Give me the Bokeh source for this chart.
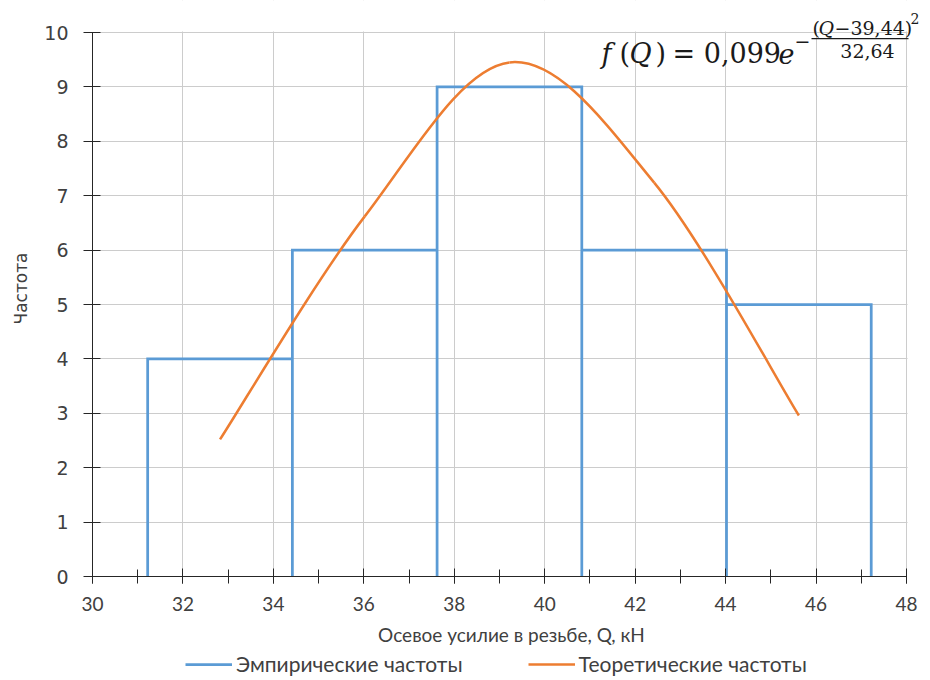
from bokeh.plotting import figure
from bokeh.layouts import column
from bokeh.models import (Range1d, SingleIntervalTicker, FixedTicker, Legend, LegendItem,
                          Label, BoxAnnotation)
from bokeh.embed import file_html
from bokeh.resources import INLINE

# ---- data ----
bin_edges = [31.22, 34.42, 37.62, 40.82, 44.02, 47.22]
empirical_freq = [4, 6, 9, 6, 5]
mid_q = [32.82, 36.02, 39.22, 42.42, 45.62]
theoretical_freq = [2.52, 6.62, 9.45, 7.24, 2.96]
x_ticks = list(range(30, 49, 2))
y_ticks = list(range(0, 11))
legend_labels = ["Эмпирические частоты", "Теоретические частоты"]

BLUE = "#5B9BD5"
ORANGE = "#ED7D31"
AXIS = "#262626"
SANS = "Lato"
LABEL_INK = "#404040"

# pixel geometry of the plotting area (value 30..48 on x, 0..10 on y)
PX_PER_X = 814 / 18
PX_PER_Y = 544 / 10
X_END = 48 + 24 / PX_PER_X      # a little room at the right for the formula
Y_END = 10 + 32 / PX_PER_Y      # room at the top for the formula

p = figure(frame_width=838, frame_height=576, output_backend="svg", toolbar_location=None,
           x_range=Range1d(30, X_END), y_range=Range1d(0, Y_END),
           min_border_left=92, min_border_right=0, min_border_top=0, min_border_bottom=76)
p.outline_line_color = None
p.background_fill_color = "white"
p.border_fill_color = "white"

# grids
p.xgrid.ticker = FixedTicker(ticks=x_ticks)
p.ygrid.ticker = FixedTicker(ticks=y_ticks)
for g in (p.xgrid, p.ygrid):
    g.grid_line_color = "#cccccc"
    g.grid_line_width = 1

# axes
xa = p.xaxis[0]
xa.ticker = SingleIntervalTicker(interval=2, num_minor_ticks=2)
xa.bounds = (30, 48)
xa.major_tick_in = 8
xa.major_tick_out = 7
xa.minor_tick_in = 7
xa.minor_tick_out = 7
xa.major_label_standoff = 13
xa.major_label_text_font = SANS
xa.major_label_text_font_size = "19px"
xa.major_label_text_color = LABEL_INK
xa.axis_label = "Осевое усилие в резьбе, Q, кН"
xa.axis_label_text_font = SANS
xa.axis_label_text_font_size = "19px"
xa.axis_label_text_font_style = "normal"
xa.axis_label_text_color = LABEL_INK
xa.axis_label_standoff = 9

ya = p.yaxis[0]
ya.ticker = FixedTicker(ticks=y_ticks)
ya.bounds = (0, 10)
ya.major_tick_in = 8
ya.major_tick_out = 9
ya.major_label_standoff = 15
ya.major_label_text_font = "DejaVu Sans"
ya.major_label_text_font_size = "19px"
ya.major_label_text_color = LABEL_INK
ya.axis_label = "Частота"
ya.axis_label_text_font = "DejaVu Sans"
ya.axis_label_text_font_size = "17px"
ya.axis_label_text_font_style = "normal"
ya.axis_label_text_color = LABEL_INK
ya.axis_label_standoff = 10

for a in (xa, ya):
    a.axis_line_color = AXIS
    a.major_tick_line_color = AXIS
xa.minor_tick_line_color = AXIS
ya.minor_tick_line_color = None

# keep the grid inside 30..48 / 0..10
p.add_layout(BoxAnnotation(bottom=10 + 1 / PX_PER_Y, fill_color="white", fill_alpha=1,
                           line_color=None))
p.add_layout(BoxAnnotation(left=48 + 1 / PX_PER_X, fill_color="white", fill_alpha=1,
                           line_color=None))

# empirical histogram as a step line
hx = [bin_edges[0]]
hy = [0]
for i, f in enumerate(empirical_freq):
    hx += [bin_edges[i], bin_edges[i + 1], bin_edges[i + 1]]
    hy += [f, f, 0]
p.line(hx, hy, line_color=BLUE, line_width=2.75, line_join="miter")

# theoretical frequencies as a smoothed curve through the points
n = len(mid_q)
x0, y0, x1, y1, cx0, cy0, cx1, cy1 = [], [], [], [], [], [], [], []
for i in range(n - 1):
    a = max(i - 1, 0)
    b = min(i + 2, n - 1)
    x0.append(mid_q[i]); y0.append(theoretical_freq[i])
    x1.append(mid_q[i + 1]); y1.append(theoretical_freq[i + 1])
    cx0.append(mid_q[i] + (mid_q[i + 1] - mid_q[a]) / 6)
    cy0.append(theoretical_freq[i] + (theoretical_freq[i + 1] - theoretical_freq[a]) / 6)
    cx1.append(mid_q[i + 1] - (mid_q[b] - mid_q[i]) / 6)
    cy1.append(theoretical_freq[i + 1] - (theoretical_freq[b] - theoretical_freq[i]) / 6)
p.bezier(x0=x0, y0=y0, x1=x1, y1=y1, cx0=cx0, cy0=cy0, cx1=cx1, cy1=cy1,
         line_color=ORANGE, line_width=2.5)

# ---- formula (positions in pixels converted to data units) ----
def dx(px):
    return 30 + (px - 92) / PX_PER_X

def dy(py):
    return (576 - py) / PX_PER_Y

SERIF = "DejaVu Serif"
INK = "#1a1a1a"

def lab(text, px, py, size, style="normal", align="left"):
    p.add_layout(Label(x=dx(px), y=dy(py), text=text, text_font=SERIF, text_font_size=size,
                       text_font_style=style, text_color=INK, text_align=align,
                       text_baseline="middle"))

lab("f", 601, 53, "27px", "italic")
lab("(", 619, 53, "27px")
lab("Q", 629, 53, "27px", "italic")
lab(")", 655, 53, "27px")
lab("= 0,099", 672, 53, "27px")
lab("e", 778, 53, "27px", "italic")
lab("−", 794, 40, "19px")
lab("(", 812, 27, "19px")
lab("Q", 818, 27, "19px", "italic")
lab("−39,44)", 834, 27, "19px")
lab("2", 910, 18, "14px")
lab("32,64", 867, 50, "19px", align="center")
p.add_layout(BoxAnnotation(left=dx(811), right=dx(908), top=dy(37.4), bottom=dy(38.7),
                           fill_color=INK, fill_alpha=1, line_color=None))

# ---- legend strip under the chart (its frame is aligned with the chart's frame) ----
lg = figure(width=930, height=28, output_backend="svg", toolbar_location=None,
            x_range=Range1d(0, 1), y_range=Range1d(0, 1),
            min_border_left=92, min_border_right=0, min_border_top=0, min_border_bottom=0)
lg.axis.visible = False
lg.grid.visible = False
lg.outline_line_color = None
# legend keys only: their points lie outside the strip's visible range
k_emp = lg.line(x=[-2, -1], y=[-2, -2], line_color=BLUE, line_width=2.75)
k_th = lg.line(x=[-2, -1], y=[-2, -2], line_color=ORANGE, line_width=2.5)
legend = Legend(items=[LegendItem(label=legend_labels[0], renderers=[k_emp]),
                       LegendItem(label=legend_labels[1], renderers=[k_th])],
                orientation="horizontal", location=(93, 4),
                label_text_font=SANS, label_text_font_size="21px", label_text_color=LABEL_INK,
                glyph_width=47, glyph_height=20, label_height=20, label_standoff=4,
                spacing=65, padding=0, margin=0,
                border_line_color=None, background_fill_alpha=0)
lg.add_layout(legend, "center")

open("out.html", "w").write(file_html(column(p, lg, spacing=0), INLINE))
